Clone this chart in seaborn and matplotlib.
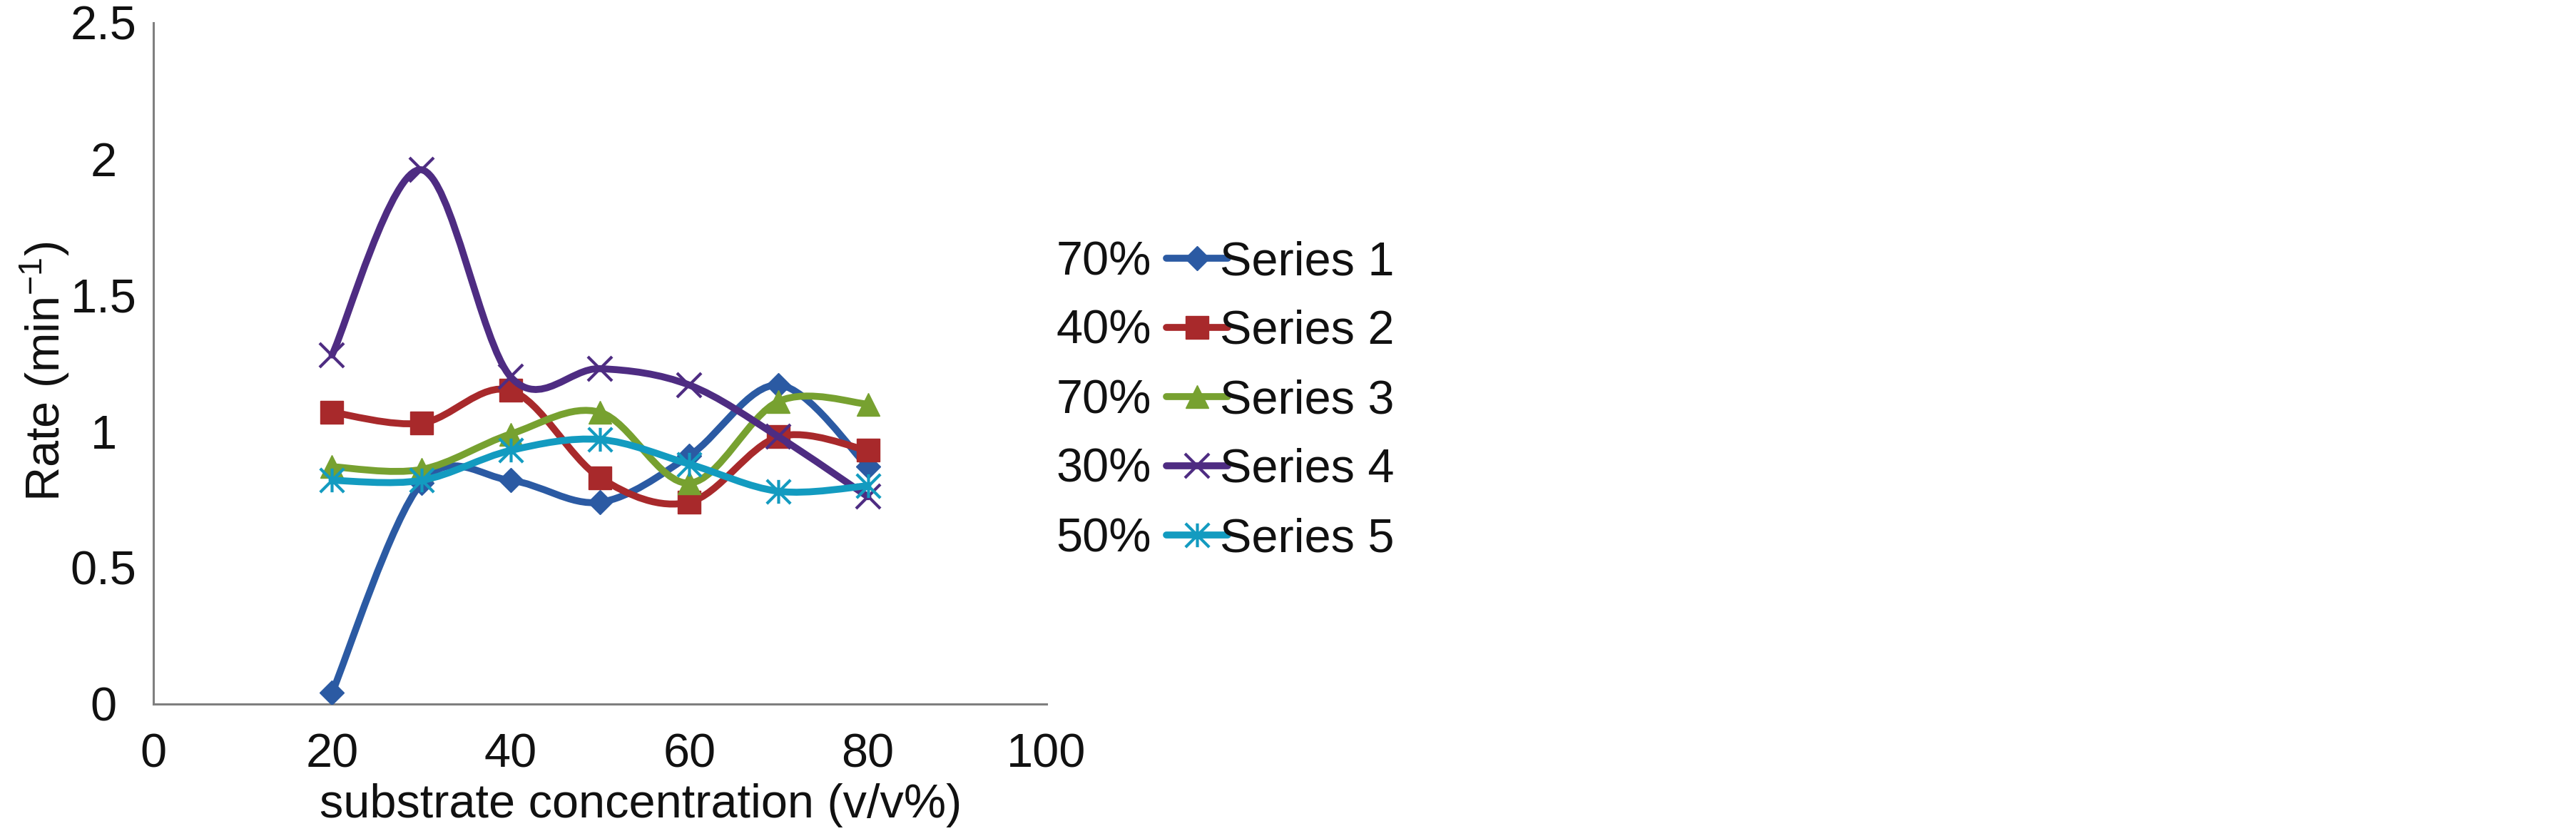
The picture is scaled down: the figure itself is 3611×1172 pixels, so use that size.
import numpy as np
import pandas as pd
import matplotlib
matplotlib.use("Agg")
import matplotlib.pyplot as plt
import seaborn as sns
from matplotlib.path import Path
from matplotlib.patches import PathPatch
from matplotlib.lines import Line2D

# ---------------- data ----------------
x_conc = [20, 30, 40, 50, 60, 70, 80]
series_names = ["Series 1", "Series 2", "Series 3", "Series 4", "Series 5"]
percent_labels = ["70%", "40%", "70%", "30%", "50%"]
series1 = [0.04, 0.81, 0.82, 0.74, 0.91, 1.17, 0.87]
series2 = [1.07, 1.03, 1.15, 0.83, 0.74, 0.98, 0.93]
series3 = [0.87, 0.86, 0.99, 1.07, 0.81, 1.11, 1.10]
series4 = [1.28, 1.96, 1.20, 1.23, 1.17, 0.98, 0.76]
series5 = [0.82, 0.82, 0.93, 0.97, 0.88, 0.78, 0.80]
x_ticks = [0, 20, 40, 60, 80, 100]
x_ticklabels = ["0", "20", "40", "60", "80", "100"]
y_ticks = [0, 0.5, 1, 1.5, 2, 2.5]
y_ticklabels = ["0", "0.5", "1", "1.5", "2", "2.5"]
x_label = "substrate concentration (v/v%)"
y_label = "Rate (min$^{-1}$)"

# ---------------- style ----------------
colors = ["#2B5AA3", "#A8292B", "#77A130", "#4E2C82", "#139BC0"]
asterisk = Path([(0, -1), (0, 1), (-1, -1), (1, 1), (-1, 1), (1, -1)],
                [Path.MOVETO, Path.LINETO, Path.MOVETO, Path.LINETO,
                 Path.MOVETO, Path.LINETO])
markers = ["D", "s", "^", "x", asterisk]
msizes = [17, 22.5, 23.5, 24, 24]
mews = [1, 1, 1, 3, 3]

sns.set_theme(style="white")
plt.rcParams["font.family"] = ["Liberation Sans", "DejaVu Sans"]
plt.rcParams["mathtext.fontset"] = "custom"
plt.rcParams["mathtext.rm"] = "Liberation Sans"
plt.rcParams["mathtext.it"] = "Liberation Sans:italic"
plt.rcParams["mathtext.bf"] = "Liberation Sans:bold"
plt.rcParams["mathtext.default"] = "regular"

FS = 48
LW = 7
W, H = 3612, 1172
fig = plt.figure(figsize=(W / 100, H / 100), dpi=100)
fig.patch.set_facecolor("white")
ax = fig.add_axes([215 / W, 1 - 986.7 / H, 1252 / W, 955 / H])
ax.set_facecolor("white")


def smooth_path(xs, ys):
    pts = np.column_stack([xs, ys]).astype(float)
    n = len(pts)
    verts = [pts[0]]
    codes = [Path.MOVETO]
    for i in range(n - 1):
        p0 = pts[i - 1] if i > 0 else pts[i]
        p1 = pts[i]
        p2 = pts[i + 1]
        p3 = pts[i + 2] if i + 2 < n else pts[i + 1]
        verts += [p1 + (p2 - p0) / 6.0, p2 - (p3 - p1) / 6.0, p2]
        codes += [Path.CURVE4] * 3
    return Path(verts, codes)


all_series = [series1, series2, series3, series4, series5]
handles = []
for i, (name, ys) in enumerate(zip(series_names, all_series)):
    c = colors[i]
    patch = PathPatch(smooth_path(x_conc, ys), facecolor="none", edgecolor=c,
                      lw=LW, capstyle="round", joinstyle="round",
                      zorder=3 + 2 * i)
    ax.add_patch(patch)
    df = pd.DataFrame({"x": x_conc, "y": ys})
    sns.lineplot(data=df, x="x", y="y", ax=ax, color=c, linewidth=0,
                 marker=markers[i], markersize=msizes[i],
                 markeredgecolor=c, markerfacecolor=c,
                 markeredgewidth=mews[i], zorder=4 + 2 * i, legend=False)
    handles.append(Line2D([0], [0], color=c, lw=LW, marker=markers[i],
                          markersize=msizes[i], markerfacecolor=c,
                          markeredgecolor=c, markeredgewidth=mews[i],
                          solid_capstyle="round"))

ax.set_xlim(0, 100)
ax.set_ylim(0, 2.5)
ax.set_xticks(x_ticks)
ax.set_xticklabels(x_ticklabels)
ax.set_yticks(y_ticks)
ax.set_yticklabels(y_ticklabels)
for lab in ax.get_yticklabels():
    lab.set_horizontalalignment("center")

axis_gray = "#7F7F7F"
for s in ["top", "right"]:
    ax.spines[s].set_visible(False)
for s in ["left", "bottom"]:
    ax.spines[s].set_color(axis_gray)
    ax.spines[s].set_linewidth(2.2)
ax.grid(False)
ax.tick_params(axis="both", direction="out", length=9.4, width=2.2,
               color=axis_gray, labelsize=FS, labelcolor="#111111")
ax.tick_params(axis="y", pad=41)
ax.tick_params(axis="x", pad=20)

ax.set_xlabel(x_label, fontsize=FS, color="#111111", va="center")
ax.xaxis.set_label_coords(0.5455, -0.149)
ax.set_ylabel(y_label, fontsize=FS, color="#111111", va="center")
ax.yaxis.set_label_coords(-0.1214, 0.4877)

leg = ax.legend(handles, series_names, loc="upper left",
                bbox_to_anchor=(1635 / W, 1 - 330 / H),
                bbox_transform=fig.transFigure, frameon=False, fontsize=FS,
                handlelength=1.29, handletextpad=-0.165, labelspacing=0.525,
                borderpad=0, borderaxespad=0, numpoints=1)
for t in leg.get_texts():
    t.set_color("#111111")

# align first legend row to its reference position
fig.canvas.draw()
renderer = fig.canvas.get_renderer()
bb = leg.get_texts()[0].get_window_extent(renderer)
cy = 0.5 * (bb.y0 + bb.y1)
target = H - 368
dy = target - cy
leg.set_bbox_to_anchor((1635 / W, 1 - 330 / H + dy / H), transform=fig.transFigure)
fig.canvas.draw()

for t, pct in zip(leg.get_texts(), percent_labels):
    b = t.get_window_extent(renderer)
    yc = 0.5 * (b.y0 + b.y1) / H
    fig.text(1614 / W, yc, pct, ha="right", va="center", fontsize=FS,
             color="#111111")

fig.savefig("out.png", dpi=100, facecolor="white")
